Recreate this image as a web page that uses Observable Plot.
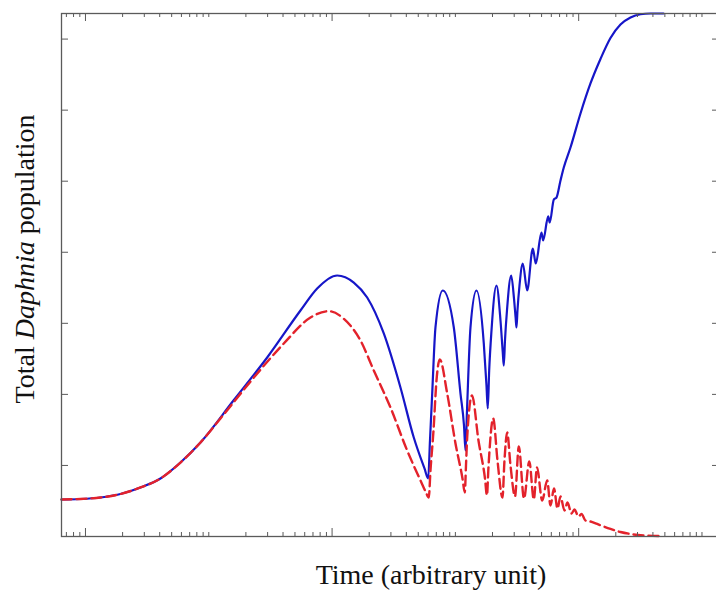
<!DOCTYPE html>
<html><head><meta charset="utf-8">
<script src="https://cdn.jsdelivr.net/npm/d3@7"></script>
<script src="https://cdn.jsdelivr.net/npm/@observablehq/plot@0.6"></script>
<style>
html,body{margin:0;padding:0;background:#fff;overflow:hidden;width:716px;height:592px}
#chart{width:722px}
</style>
</head><body><div id="chart"></div>
<script>
// Blue solid series (time, total population)
const blueTime = [0.639, 0.911, 1.323, 1.922, 2.793, 4.058, 5.894, 8.565, 15.86, 29.76, 55.41, 75.71, 110.0, 150.0, 192.6, 262.6, 358.6, 459.8, 561.6, 601.8, 622.3,
  648.6, 689.7, 790.5, 970.5, 1100, 1174.5, 1208, 1242.4, 1326, 1483, 1700, 1787.5, 1831, 1880, 1963, 2154, 2322, 2423, 2469, 2525, 2621, 2836, 2988, 3084, 3130, 3188, 3311, 3522, 3822,
  4245, 4489, 4993, 5154, 5657, 5828, 6283, 6607, 7120, 7571, 8580, 10342, 12463, 15024, 18106, 21827, 26320, 31707, 38222, 48726];
const blueValue = [0.521, 0.528, 0.549, 0.598, 0.690, 0.816, 1.041, 1.323, 1.914, 2.519, 3.180, 3.490, 3.673, 3.574, 3.363, 2.857, 2.097, 1.393, 0.957, 0.816, 1.351,
  2.012, 2.945, 3.462, 2.945, 2.012, 1.562, 1.210, 1.773, 2.945, 3.462, 2.716, 2.125, 1.801, 2.336, 2.899, 3.532, 3.040, 2.589, 2.406, 2.758, 3.180, 3.673, 3.349, 3.068, 2.941, 3.180, 3.532, 3.842, 3.462,
  4.053, 3.842, 4.278, 4.166, 4.504, 4.419, 4.742, 4.770, 5.010, 5.193, 5.474, 5.953, 6.375, 6.720, 7.015, 7.205, 7.304, 7.349, 7.360, 7.360];

// Red dashed series
const redTime = [0.639, 0.911, 1.323, 1.922, 2.793, 4.058, 5.894, 8.565, 12.44, 21.79, 40.58, 66.81, 94.0, 124.4, 170.0, 217.9, 297.6, 406.5, 521.2, 577.6, 608.5, 628.1,
  664.5, 702.7, 747.4, 858.3, 1002, 1142, 1192, 1219, 1247, 1363, 1539, 1738.4, 1804, 1849, 1891, 2026, 2195, 2410, 2501, 2631, 2799, 3044, 3268, 3601, 3977, 4324, 4591,
  5058, 5553, 5905, 6306, 6731, 7120, 7670, 8113, 8742, 9246, 9963, 10537, 11355, 12463, 14129, 18106, 21827, 26320, 34822, 46074];
const redValue = [0.521, 0.528, 0.549, 0.598, 0.690, 0.816, 1.041, 1.323, 1.661, 2.181, 2.716, 3.082, 3.171, 3.064, 2.758, 2.336, 1.815, 1.210, 0.788, 0.619, 0.549, 0.929,
  1.492, 2.195, 2.491, 2.012, 1.309, 0.816, 0.619, 0.999, 1.397, 1.984, 1.351, 0.816, 0.577, 0.929, 1.210, 1.661, 1.070, 0.549, 1.070, 1.464, 0.999, 0.563, 1.267, 0.535, 1.055, 0.521, 0.971,
  0.507, 0.788, 0.436, 0.675, 0.394, 0.563, 0.366, 0.478, 0.324, 0.380, 0.281, 0.317, 0.225, 0.211, 0.176, 0.106, 0.063, 0.035, 0.014, 0.007];

// Axis ticks (no labels in the original)
const majorTicks = [1, 100, 10000];
const minorTicks = [];
for (let p = -1; p <= 5; p++) for (let k = 1; k <= 9; k++) {
  const v = k * Math.pow(10, p);
  if (v >= 0.64 && v <= 138000 && !majorTicks.includes(v)) minorTicks.push(v);
}
const yTicks = [1, 2, 3, 4, 5, 6, 7];

const xLabel = "Time (arbitrary unit)";
const yLabelParts = [["Total ", "normal"], ["Daphnia", "italic"], [" population", "normal"]];

const blue = blueTime.map((t, i) => ({t, v: blueValue[i]}));
const red = redTime.map((t, i) => ({t, v: redValue[i]}));

const W = 722, H = 592, ML = 61, MR = 3, MT = 13, MB = 56;
const plotW = W - ML - MR, plotH = H - MT - MB;
const axisColor = "#5a5a5a";

const svg = Plot.plot({
  width: W, height: H,
  marginLeft: ML, marginRight: MR, marginTop: MT, marginBottom: MB,
  style: {maxWidth: "none", background: "#fff"},
  x: {type: "log", domain: [0.639, 138700], axis: null},
  y: {domain: [0, 7.36], axis: null},
  marks: [
    Plot.line(blue, {x: "t", y: "v", stroke: "#1616c8", strokeWidth: 2.2, curve: "monotone-x"}),
    Plot.line(red, {x: "t", y: "v", stroke: "#e3222b", strokeWidth: 2.4, strokeDasharray: "10,5", curve: "monotone-x"}),
    Plot.tickX(majorTicks, {x: d => d, insetTop: plotH - 8, stroke: axisColor, strokeWidth: 1}),
    Plot.tickX(majorTicks, {x: d => d, insetBottom: plotH - 8, stroke: axisColor, strokeWidth: 1}),
    Plot.tickX(minorTicks, {x: d => d, insetTop: plotH - 4, stroke: axisColor, strokeWidth: 1}),
    Plot.tickX(minorTicks, {x: d => d, insetBottom: plotH - 4, stroke: axisColor, strokeWidth: 1}),
    Plot.tickY(yTicks, {y: d => d, insetRight: plotW - 7, stroke: axisColor, strokeWidth: 1}),
    Plot.tickY(yTicks, {y: d => d, insetLeft: plotW - 7, stroke: axisColor, strokeWidth: 1}),
    Plot.frame({stroke: axisColor, strokeWidth: 1.3})
  ]
});

const s = d3.select(svg);
s.append("text")
  .attr("x", 431).attr("y", 584)
  .attr("text-anchor", "middle")
  .attr("font-family", "'Liberation Serif', 'DejaVu Serif', serif")
  .attr("font-size", 28).attr("fill", "#111")
  .text(xLabel);
const yl = s.append("text")
  .attr("transform", "translate(34,259) rotate(-90)")
  .attr("text-anchor", "middle")
  .attr("font-family", "'Liberation Serif', 'DejaVu Serif', serif")
  .attr("font-size", 28).attr("fill", "#111");
yLabelParts.forEach(([txt, st]) => yl.append("tspan").attr("font-style", st).text(txt));

document.getElementById("chart").appendChild(svg);
</script>
</body></html>
